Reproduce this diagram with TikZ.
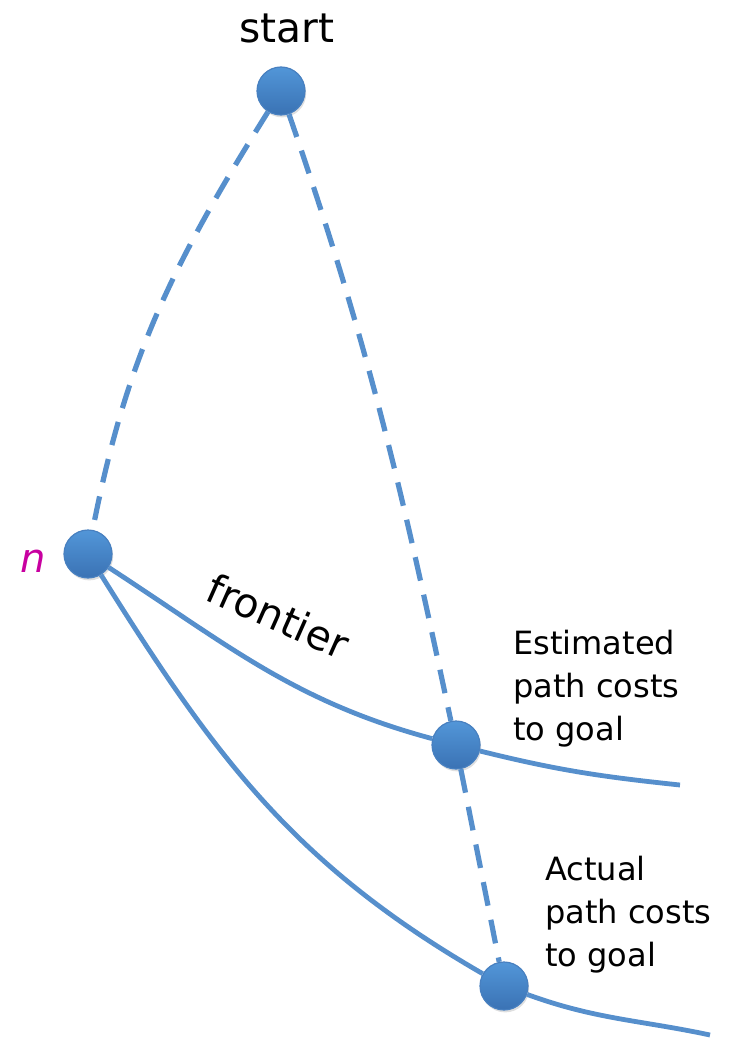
\documentclass[tikz,border=0pt]{standalone}
\usepackage{fontspec}
\setmainfont{DejaVu Sans}
\usepackage{xcolor}
\usepackage{tikz}
\usetikzlibrary{
    arrows.meta,
    positioning,
    shadows
}
\definecolor{pathblue}{RGB}{86,143,204}
\definecolor{nodetop}{RGB}{82,150,216}
\definecolor{nodebottom}{RGB}{58,114,180}
\definecolor{nodeedge}{RGB}{72,128,192}
\definecolor{nlabel}{RGB}{200,0,160}
\tikzset{
    state/.style={
        circle,
        draw=nodeedge,
        line width=0.3mm,
        top color=nodetop,
        bottom color=nodebottom,
        minimum size=12mm,
        inner sep=0pt,
        drop shadow={shadow xshift=0.3mm, shadow yshift=-0.6mm, opacity=0.25}
    }
}
\tikzset{
    estimate/.style={
        draw=pathblue,
        line width=1.3mm,
        dash pattern=on 6mm off 3.6mm
    }
}
\tikzset{
    costpath/.style={
        draw=pathblue,
        line width=1.2mm
    }
}
\tikzset{
    bigtext/.style={
        font=\fontsize{29}{35}\selectfont,
        inner sep=0pt
    }
}
\tikzset{
    note/.style={
        font=\fontsize{22.8}{30.6}\selectfont,
        align=left,
        inner sep=0pt
    }
}

\begin{document}
\begin{tikzpicture}[
    >=Latex
]

\useasboundingbox (0mm,0mm) rectangle (182.75mm,-261.25mm);

% ------------------------------------------------------------
% Nodes
% ------------------------------------------------------------

\node[state] (start) at (70.25mm,-22.75mm) {};
\node[state] (n)     at (22mm,-138.5mm) {};
\node[state] (est)   at (114mm,-186.25mm) {};
\node[state] (act)   at (126mm,-246.5mm) {};
\coordinate (fend) at (170mm,-196.25mm);
\coordinate (aend) at (177.5mm,-258.75mm);

% ------------------------------------------------------------
% Labels
% ------------------------------------------------------------

\node[bigtext, anchor=base] (startlbl) at (71.75mm,-10.75mm) {start};
\node[bigtext, anchor=base, font=\fontsize{28.5}{34}\selectfont\itshape, text=nlabel] (nlbl) at (8.25mm,-143mm) {n};
\node[bigtext, rotate=-24] (frontlbl) at (69.5mm,-154mm) {frontier};
\node[note, anchor=north west] (estlbl) at (128.25mm,-157.5mm) {Estimated\\path costs\\to goal};
\node[note, anchor=north west] (actlbl) at (136.25mm,-214mm) {Actual\\path costs\\to goal};

% ------------------------------------------------------------
% Paths
% ------------------------------------------------------------

\draw[estimate] (start) to[out=-122, in=79] (n);
\draw[estimate] (start) to[out=-71, in=102] (est);
\draw[estimate] (est) -- (act);
\draw[costpath] (n) to[out=-33, in=165] (est) to[out=-14, in=174] (fend);
\draw[costpath] (n) to[out=-58, in=150] (act) to[out=-20, in=168] (aend);

\end{tikzpicture}
\end{document}
